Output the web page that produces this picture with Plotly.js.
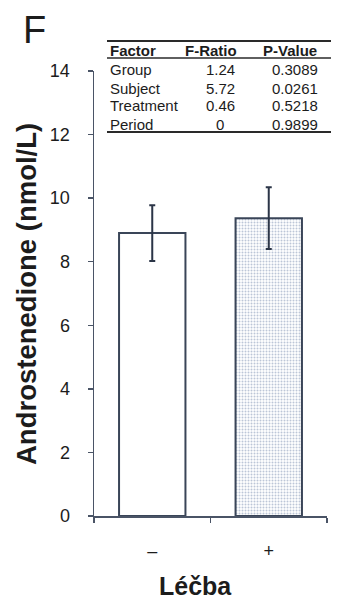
<!DOCTYPE html>
<html>
<head>
<meta charset="utf-8">
<script src="https://cdn.plot.ly/plotly-3.0.1.min.js"></script>
<style>
  html, body { margin: 0; padding: 0; background: #fff; }
  #chart { width: 337px; height: 602px; }
</style>
</head>
<body>
<div id="chart"></div>
<script>
// Treatment groups and androstenedione means with their error bars
const groups = ['–', '+'];
const means = [8.9, 9.37];
const errors = [0.88, 0.97];
const yTicks = [0, 2, 4, 6, 8, 10, 12, 14];

// ANOVA summary shown in the inset table
const tableHeader = ['Factor', 'F-Ratio', 'P-Value'];
const factors = ['Group', 'Subject', 'Treatment', 'Period'];
const fRatios = ['1.24', '5.72', '0.46', '0'];
const pValues = ['0.3089', '0.0261', '0.5218', '0.9899'];

const W = 337, H = 602;
const M = { l: 94, r: 10, t: 71, b: 86 };
const plotW = W - M.l - M.r, plotH = H - M.t - M.b;
const px = x => (x - M.l) / plotW;           // pixel -> paper x
const py = y => (H - M.b - y) / plotH;       // pixel -> paper y

const FONT = 'Liberation Sans, Arial, sans-serif';
const AXIS = '#4a5466';
const INK = '#1c1c1c';

const trace = {
  type: 'bar',
  x: groups,
  y: means,
  width: 0.57,
  marker: {
    color: ['#ffffff', '#bcc6d7'],
    line: { color: '#3a4558', width: 2 },
    pattern: { shape: ['', '.'], fgcolor: '#7f8ba3', size: 3, solidity: 0.35 }
  },
  error_y: {
    type: 'data', array: errors, visible: true,
    color: '#2b3547', thickness: 2, width: 3
  },
  hoverinfo: 'none'
};

const annotations = [];
const tableFont = { family: FONT, size: 15, color: INK };
const headFont = { family: FONT, size: 15, color: INK, weight: 'bold' };

// header row
annotations.push({ text: '<b>' + tableHeader[0] + '</b>', x: px(108), y: py(50), xanchor: 'left' });
annotations.push({ text: '<b>' + tableHeader[1] + '</b>', x: px(211), y: py(50), xanchor: 'center' });
annotations.push({ text: '<b>' + tableHeader[2] + '</b>', x: px(290), y: py(50), xanchor: 'center' });

// body rows
factors.forEach((f, i) => {
  const yy = py(70 + i * 18);
  annotations.push({ text: f, x: px(108), y: yy, xanchor: 'left', font: tableFont });
  annotations.push({ text: fRatios[i], x: px(220), y: yy, xanchor: 'center', font: tableFont });
  annotations.push({ text: pValues[i], x: px(320), y: yy, xanchor: 'right', font: tableFont });
});
annotations.forEach(a => {
  a.xref = 'paper'; a.yref = 'paper'; a.yanchor = 'middle';
  a.showarrow = false;
  if (!a.font) a.font = headFont;
});

// panel letter and axis titles
annotations.push({
  text: 'F', xref: 'paper', yref: 'paper', x: px(34), y: py(30),
  xanchor: 'center', yanchor: 'middle', showarrow: false,
  font: { family: FONT, size: 38, color: INK }
});
annotations.push({
  text: '<b>Androstenedione (nmol/L)</b>', xref: 'paper', yref: 'paper',
  x: px(26), y: py(294), xanchor: 'center', yanchor: 'middle', textangle: -90,
  showarrow: false, font: { family: FONT, size: 27.5, color: INK }
});
annotations.push({
  text: '<b>Léčba</b>', xref: 'paper', yref: 'paper',
  x: px(195), y: py(586), xanchor: 'center', yanchor: 'middle',
  showarrow: false, font: { family: FONT, size: 25, color: INK }
});

const tableLine = (y, w) => ({
  type: 'line', xref: 'paper', yref: 'paper',
  x0: px(107), x1: px(331), y0: py(y), y1: py(y),
  line: { color: '#2a2a2a', width: w }
});

const layout = {
  width: W, height: H, autosize: false,
  margin: M,
  paper_bgcolor: '#ffffff', plot_bgcolor: '#ffffff',
  showlegend: false,
  font: { family: FONT, color: INK },
  xaxis: {
    type: 'category', categoryarray: groups, range: [-0.5, 1.5],
    tickson: 'boundaries', ticks: 'outside', ticklen: 5, tickwidth: 1.5,
    tickcolor: AXIS, showline: true, linecolor: AXIS, linewidth: 1.5,
    showgrid: false, zeroline: false, fixedrange: true,
    tickfont: { family: FONT, size: 18, color: INK },
    ticklabelstandoff: 18
  },
  yaxis: {
    range: [0, 14], tickvals: yTicks, ticktext: yTicks.map(String),
    ticks: 'outside', ticklen: 5, tickwidth: 1.5, tickcolor: AXIS,
    showline: true, linecolor: AXIS, linewidth: 1.5,
    showgrid: false, zeroline: false, fixedrange: true,
    tickfont: { family: FONT, size: 18, color: INK },
    ticklabelstandoff: 14
  },
  shapes: [tableLine(41, 2), tableLine(58, 1.5), tableLine(132, 2)],
  annotations: annotations
};

Plotly.newPlot('chart', [trace], layout, { displayModeBar: false, staticPlot: true });
</script>
</body>
</html>
